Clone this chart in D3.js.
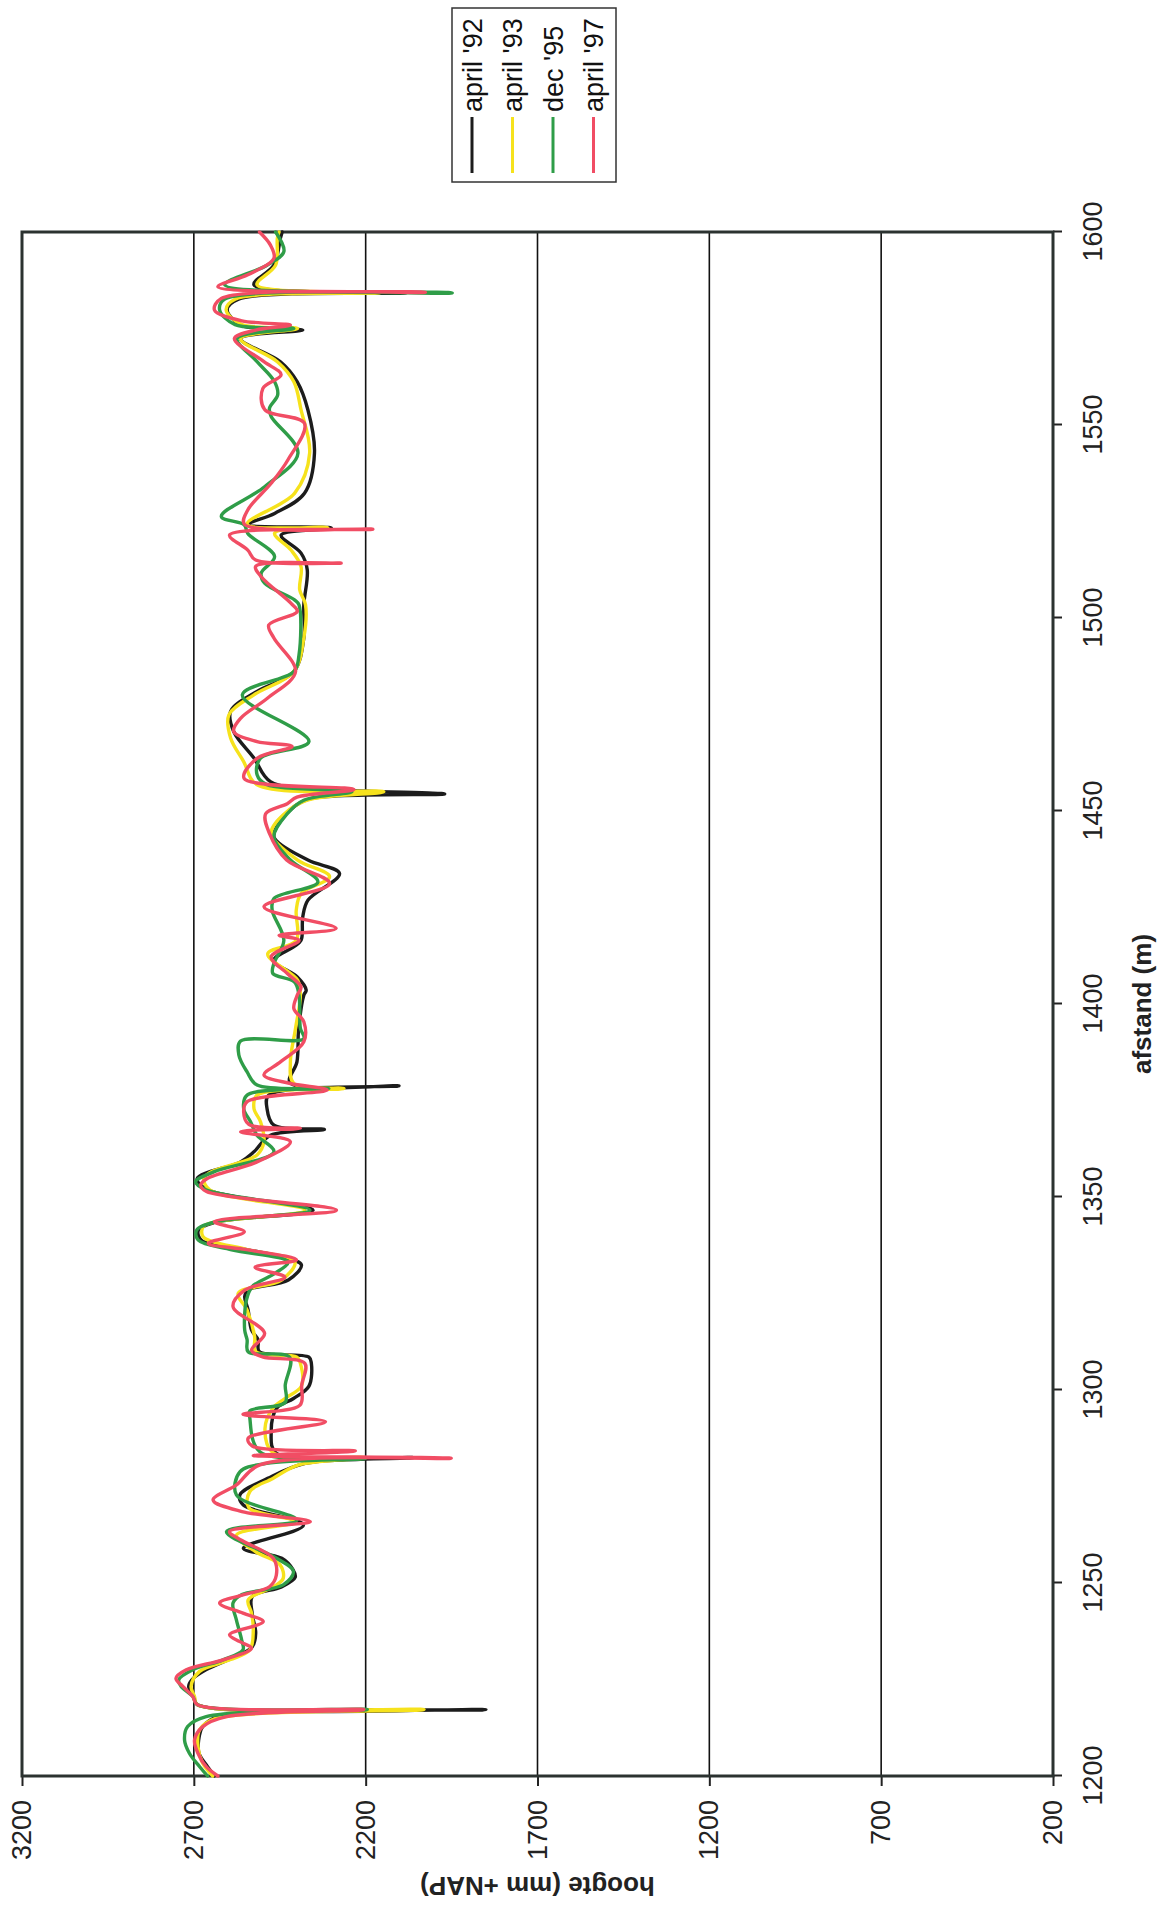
<!DOCTYPE html>
<html>
<head>
<meta charset="utf-8">
<script src="https://cdn.jsdelivr.net/npm/d3@7"></script>
<style>
  body { margin: 0; background: #fff; }
  svg { display: block; }
</style>
</head>
<body>
<svg id="chart" width="1158" height="1906"></svg>
<script>
// Profile heights (mm +NAP) along the track (afstand in m), four surveys.
const afstandTicks = [1200, 1250, 1300, 1350, 1400, 1450, 1500, 1550, 1600];
const hoogteTicks = [200, 700, 1200, 1700, 2200, 2700, 3200];
const seriesNames = ["april '92", "april '93", "dec '95", "april '97"];
const seriesColors = ["#1c1c1c", "#f6e21c", "#2f9d48", "#f14d64"];

const april92 = [
  [1200, 2640], [1202.4, 2660], [1205.9, 2685], [1209.3, 2686], [1212.8, 2674], [1215.4, 2630],
  [1217.2, 1850], [1218.5, 2690], [1220.6, 2700], [1223.2, 2715], [1225, 2705], [1227.5, 2665],
  [1230.9, 2580], [1233.5, 2530], [1237, 2520], [1242, 2530], [1246.5, 2530], [1249, 2445],
  [1251.5, 2405], [1253.5, 2412], [1256.4, 2444], [1259, 2556], [1265, 2381], [1270.2, 2556],
  [1272.8, 2566], [1277.1, 2485], [1281, 2376], [1282.5, 2060], [1283.6, 2460], [1289, 2475],
  [1295.3, 2459], [1297.8, 2410], [1301, 2365], [1306.9, 2358], [1308.5, 2365], [1310, 2510],
  [1313, 2513], [1315.5, 2532], [1320.7, 2542], [1324.2, 2552], [1325.9, 2542], [1328.5, 2425],
  [1332.4, 2387], [1334.5, 2445], [1336.3, 2542], [1338.8, 2678], [1341.4, 2687], [1343.4, 2640],
  [1346.6, 2353], [1351.8, 2658], [1354.8, 2690], [1359.1, 2564], [1361.7, 2525], [1366, 2477],
  [1367.5, 2320], [1368.6, 2467], [1372.9, 2487], [1376.4, 2482], [1378.8, 2103], [1379.6, 2420],
  [1385, 2400], [1393.7, 2395], [1402.3, 2380], [1403.6, 2373], [1407, 2399], [1411.3, 2467],
  [1414.8, 2410], [1416.5, 2388], [1422.6, 2383], [1426.9, 2368], [1433.8, 2276], [1437.3, 2368],
  [1443.3, 2467], [1447.6, 2446], [1451, 2410], [1453.2, 2360], [1454.4, 1970], [1455.6, 2300],
  [1457.6, 2477], [1463.7, 2525], [1470.6, 2584], [1475.8, 2593], [1481, 2516], [1486.1, 2409],
  [1494.8, 2380], [1503.4, 2380], [1512.5, 2370], [1516.8, 2388], [1521.5, 2446], [1523.3, 2300],
  [1524.3, 2540], [1527.1, 2465], [1532.3, 2378], [1542.7, 2349], [1553.9, 2368], [1561.2, 2399],
  [1566.4, 2448], [1572.4, 2564], [1574.6, 2383], [1575.8, 2560], [1579.8, 2603], [1582.6, 2570],
  [1584.3, 2080], [1586.3, 2525], [1591.4, 2467], [1598.4, 2448], [1600, 2443]
];

const april93 = [
  [1200, 2645], [1203.3, 2674], [1207.6, 2688], [1212, 2683], [1214.8, 2640], [1217.2, 2030],
  [1218.5, 2690], [1220.6, 2698], [1223.2, 2708], [1227.1, 2683], [1230.1, 2595], [1232.7, 2537],
  [1237.8, 2527], [1242.2, 2532], [1245.6, 2542], [1249.1, 2466], [1251.2, 2440], [1254.7, 2449],
  [1258.1, 2520], [1262.4, 2576], [1265.9, 2405], [1269.5, 2540], [1273.7, 2537], [1277.1, 2470],
  [1280.6, 2395], [1282.5, 2200], [1283.8, 2470], [1290, 2493], [1295.3, 2470], [1297.8, 2435],
  [1301, 2387], [1306.9, 2390], [1308.5, 2400], [1310, 2520], [1313.8, 2523], [1320.7, 2545],
  [1325, 2571], [1328.5, 2445], [1333.2, 2406], [1336.3, 2542], [1339.7, 2673], [1342.3, 2673],
  [1343.5, 2640], [1346.6, 2377], [1351.8, 2653], [1354.8, 2671], [1356.5, 2650], [1360.9, 2516],
  [1364.3, 2496], [1369.5, 2506], [1372.9, 2525], [1376.4, 2516], [1378.1, 2263], [1379.4, 2409],
  [1385, 2419], [1393.7, 2404], [1402.3, 2390], [1406.2, 2398], [1413, 2485], [1416.5, 2402],
  [1424.3, 2402], [1428.6, 2388], [1433, 2305], [1437.3, 2398], [1444.2, 2475], [1449.3, 2436],
  [1452.8, 2370], [1455, 2147], [1456.8, 2516], [1462.8, 2555], [1468.9, 2593], [1474.9, 2598],
  [1480.1, 2525], [1486.1, 2409], [1494.8, 2380], [1503.4, 2375], [1507.3, 2392], [1513.3, 2388],
  [1517.6, 2417], [1522, 2465], [1523.4, 2310], [1524.3, 2545], [1532.3, 2407], [1542.7, 2363],
  [1553.9, 2388], [1561.2, 2409], [1566.4, 2457], [1572.4, 2564], [1575, 2398], [1576, 2560],
  [1579.8, 2606], [1582.6, 2580], [1584.3, 2157], [1586.3, 2516], [1591.4, 2462], [1598.4, 2457],
  [1600, 2452]
];

const dec95 = [
  [1200, 2660], [1202.4, 2683], [1205.9, 2713], [1209.3, 2727], [1212.8, 2718], [1215.4, 2664],
  [1217.2, 2195], [1218.5, 2690], [1220.6, 2703], [1223.2, 2737], [1224.9, 2744], [1227.5, 2703],
  [1230.1, 2615], [1232.7, 2557], [1235.3, 2561], [1240.4, 2576], [1244.8, 2586], [1247, 2560],
  [1249.5, 2440], [1253, 2410], [1256.4, 2459], [1263.3, 2605], [1266.3, 2400], [1272.8, 2576],
  [1278.8, 2566], [1281, 2488], [1282.3, 2200], [1284, 2508], [1292.7, 2537], [1294.6, 2537],
  [1296.8, 2434], [1301.3, 2434], [1308.5, 2421], [1309.9, 2542], [1313, 2545], [1315.5, 2552],
  [1323.3, 2547], [1326.8, 2530], [1330.2, 2464], [1333.2, 2426], [1336.3, 2590], [1338.8, 2687],
  [1341.4, 2692], [1343.5, 2640], [1346.6, 2362], [1351.8, 2663], [1353.9, 2695], [1356.5, 2642],
  [1361.7, 2467], [1366, 2516], [1369.5, 2535], [1372.9, 2555], [1376.4, 2545], [1378.1, 2307],
  [1379, 2516], [1382.4, 2545], [1386.8, 2569], [1390.4, 2564], [1391, 2380], [1393.7, 2390],
  [1402.3, 2394], [1405.7, 2407], [1407.9, 2470], [1410.5, 2467], [1416.5, 2438], [1424.3, 2472],
  [1427.3, 2467], [1431.6, 2339], [1437.3, 2419], [1443.3, 2467], [1449.3, 2428], [1452.8, 2380],
  [1455, 2240], [1456.8, 2487], [1459.4, 2516], [1463.7, 2506], [1468, 2365], [1480.1, 2559],
  [1486.1, 2409], [1490.4, 2394], [1503.4, 2394], [1504.7, 2407], [1509, 2494], [1511.6, 2504],
  [1515.9, 2465], [1521.9, 2543], [1524.1, 2553], [1526.3, 2620], [1534, 2494], [1542.7, 2397],
  [1552.2, 2475], [1554.3, 2480], [1557.8, 2456], [1561.2, 2465], [1566.4, 2516], [1572.4, 2574],
  [1575, 2409], [1576, 2580], [1579.8, 2625], [1582.6, 2610], [1584.2, 1948], [1586.3, 2610],
  [1591.4, 2487], [1594.9, 2438], [1600, 2462]
];

const april97 = [
  [1200, 2630], [1202.4, 2664], [1205.9, 2688], [1209.3, 2698], [1212.8, 2674], [1215.4, 2605],
  [1217.2, 2205], [1218.5, 2690], [1220.6, 2703], [1223.2, 2732], [1225.3, 2752], [1227.5, 2722],
  [1230.1, 2615], [1233.1, 2532], [1234.8, 2566], [1236.6, 2596], [1240, 2498], [1242.2, 2557],
  [1244.8, 2625], [1246.9, 2557], [1249.1, 2479], [1252, 2460], [1256.4, 2469], [1261, 2560],
  [1263.3, 2596], [1265.9, 2361], [1268.5, 2560], [1271.5, 2644], [1275.4, 2576], [1280.6, 2508],
  [1282.3, 1951], [1283, 2527], [1284.2, 2230], [1285.5, 2530], [1287.5, 2542], [1291.8, 2317],
  [1293.7, 2557], [1296.1, 2391], [1301.3, 2386], [1306.9, 2377], [1308.6, 2500], [1310.3, 2532],
  [1314.7, 2494], [1321.6, 2586], [1325.9, 2552], [1329.2, 2435], [1331.8, 2522], [1333.7, 2401],
  [1336.3, 2542], [1338, 2658], [1341, 2553], [1343.6, 2640], [1346.6, 2285], [1351.4, 2663],
  [1353.1, 2680], [1354.8, 2661], [1359.1, 2516], [1364.3, 2419], [1366.9, 2564], [1367.8, 2390],
  [1368.8, 2540], [1372.1, 2555], [1374.7, 2545], [1377.7, 2312], [1379.4, 2419], [1381.6, 2496],
  [1385, 2448], [1390.2, 2380], [1395.4, 2380], [1398.8, 2409], [1402.3, 2399], [1404.4, 2388],
  [1407.9, 2428], [1412.2, 2475], [1416.5, 2394], [1417.8, 2452], [1419.6, 2286], [1425.2, 2496],
  [1431.2, 2305], [1437.3, 2430], [1444.2, 2480], [1449.3, 2491], [1451.9, 2428], [1453.6, 2400],
  [1455.6, 2234], [1458.5, 2554], [1463.7, 2515], [1466.7, 2414], [1468, 2516], [1470.6, 2584],
  [1474, 2564], [1479.2, 2486], [1486.1, 2404], [1494.8, 2467], [1498.2, 2482], [1501.7, 2399],
  [1503.8, 2417], [1510.7, 2504], [1513.4, 2520], [1514.2, 2271], [1515, 2520], [1517.6, 2543],
  [1521.5, 2596], [1523, 2179], [1524.3, 2553], [1528, 2543], [1534.9, 2475], [1541, 2426],
  [1550.4, 2378], [1554, 2494], [1559.5, 2499], [1563, 2446], [1566.4, 2496], [1572.4, 2582],
  [1574.6, 2520], [1575.9, 2419], [1577, 2560], [1579.8, 2640], [1582.8, 2620], [1584.4, 2026],
  [1585.8, 2630], [1588.9, 2543], [1593.2, 2467], [1596.6, 2477], [1600, 2509]
];

const seriesData = [april92, april93, dec95, april97];

// The chart is laid out in a landscape frame and turned a quarter turn
// counter-clockwise onto the portrait page.
const FRAME_W = 1906;
const plot = { left: 130, right: 1674, top: 22, bottom: 1053 };
const font = "'Liberation Sans', Arial, Helvetica, sans-serif";

const svg = d3.select("#chart");
svg.append("rect").attr("width", 1158).attr("height", 1906).attr("fill", "#fff");

const g = svg.append("g")
  .attr("transform", `translate(0,${FRAME_W}) rotate(-90)`);

const x = d3.scaleLinear().domain([1200, 1600]).range([plot.left, plot.right]);
const y = d3.scaleLinear().domain([200, 3200]).range([plot.bottom, plot.top]);

// horizontal gridlines
g.append("g")
  .selectAll("line")
  .data(hoogteTicks.filter(t => t > 200 && t < 3200))
  .join("line")
  .attr("x1", plot.left).attr("x2", plot.right)
  .attr("y1", d => y(d)).attr("y2", d => y(d))
  .attr("stroke", "#111").attr("stroke-width", 1.6);

// axes
const yAxis = g.append("g")
  .attr("transform", `translate(${plot.left},0)`)
  .call(d3.axisLeft(y).tickValues(hoogteTicks).tickFormat(d3.format("d")).tickSize(10).tickPadding(14));
const xAxis = g.append("g")
  .attr("transform", `translate(0,${plot.bottom})`)
  .call(d3.axisBottom(x).tickValues(afstandTicks).tickFormat(d3.format("d")).tickSize(9).tickPadding(21));

[yAxis, xAxis].forEach(a => {
  a.select(".domain").remove();
  a.selectAll(".tick line").attr("stroke", "#222").attr("stroke-width", 2);
  a.selectAll(".tick text")
    .attr("fill", "#222")
    .style("font-family", font)
    .style("font-size", "27px");
});

// plot frame
g.append("rect")
  .attr("x", plot.left).attr("y", plot.top)
  .attr("width", plot.right - plot.left).attr("height", plot.bottom - plot.top)
  .attr("fill", "none").attr("stroke", "#2b3230").attr("stroke-width", 3);

// series lines
const line = d3.line()
  .x(d => x(d[0]))
  .y(d => y(d[1]))
  .curve(d3.curveCatmullRom.alpha(0.5));

g.append("g")
  .selectAll("path")
  .data(seriesData)
  .join("path")
  .attr("d", d => line(d))
  .attr("fill", "none")
  .attr("stroke", (d, i) => seriesColors[i])
  .attr("stroke-width", 3.4)
  .attr("stroke-linejoin", "round")
  .attr("stroke-linecap", "round");

// axis titles
g.append("text")
  .attr("x", (plot.left + plot.right) / 2)
  .attr("y", 1142)
  .attr("text-anchor", "middle")
  .attr("dominant-baseline", "central")
  .style("font-family", font).style("font-size", "26px").style("font-weight", "bold")
  .attr("fill", "#222")
  .text("afstand (m)");

g.append("text")
  .attr("transform", `translate(20,${(plot.top + plot.bottom) / 2}) rotate(-90)`)
  .attr("text-anchor", "middle")
  .attr("dominant-baseline", "central")
  .style("font-family", font).style("font-size", "26px").style("font-weight", "bold")
  .attr("fill", "#222")
  .text("hoogte (mm +NAP)");

// legend
const legend = g.append("g");
legend.append("rect")
  .attr("x", 1724).attr("y", 452).attr("width", 174).attr("height", 164)
  .attr("fill", "#fff").attr("stroke", "#333").attr("stroke-width", 1.5);
const rows = legend.selectAll("g.item")
  .data(seriesNames)
  .join("g")
  .attr("class", "item")
  .attr("transform", (d, i) => `translate(0,${472 + i * 40.5})`);
rows.append("line")
  .attr("x1", 1733).attr("x2", 1789)
  .attr("stroke", (d, i) => seriesColors[i]).attr("stroke-width", 3);
rows.append("text")
  .attr("x", 1794).attr("y", 9.5)
  .style("font-family", font).style("font-size", "27px")
  .attr("fill", "#111")
  .text(d => d);
</script>
</body>
</html>
